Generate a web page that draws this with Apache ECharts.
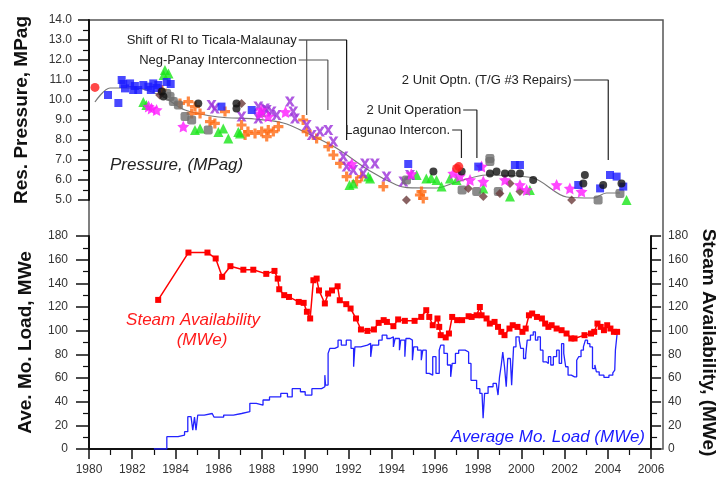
<!DOCTYPE html>
<html>
<head>
<meta charset="utf-8">
<script src="https://cdn.jsdelivr.net/npm/echarts@6/dist/echarts.min.js"></script>
<style>
  html, body { margin: 0; padding: 0; background: #fff; }
  #chart { width: 726px; height: 479px; }
</style>
</head>
<body>
<div id="chart"></div>
<script>
// ---- Reservoir pressure readings (year, MPag) by well marker group ----
const pressBlue = [[1980.86,10.25],[1981.33,9.85],[1981.48,11.0],[1981.55,10.8],[1981.63,10.58],[1981.86,10.83],[1982.0,10.5],[1982.08,10.7],[1982.23,10.5],[1982.46,10.75],[1982.69,10.67],[1982.8,10.5],[1982.91,10.83],[1983.06,10.6],[1983.14,10.75],[1983.52,10.9],[1983.7,10.8],[1986.0,9.67],[1987.37,9.5],[1994.46,6.8],[1997.63,6.67],[1999.29,6.75],[1999.52,6.75],[2002.16,5.75],[2003.15,5.58],[2003.6,6.25],[2003.9,6.17],[2004.2,5.67]];
const pressRed = [[1980.27,10.63],[1996.65,6.58],[1996.75,6.67]];
const pressGreen = [[1982.46,9.9],[1982.6,9.75],[1983.38,11.25],[1983.44,11.5],[1983.6,11.33],[1984.8,8.5],[1985.03,8.58],[1985.86,8.4],[1986.08,8.58],[1986.31,8.08],[1986.76,8.4],[1986.84,8.33],[1987.8,9.4],[1991.8,5.75],[1991.97,5.83],[1992.65,6.17],[1992.73,6.08],[1994.84,6.25],[1995.28,6.08],[1995.5,6.1],[1995.74,6.0],[1995.97,5.67],[1996.35,6.08],[1996.65,6.0],[1997.86,5.58],[1999.07,5.17],[1999.97,5.5],[2002.69,4.42],[2004.35,5.0]];
const pressMagenta = [[1982.7,9.67],[1982.83,9.58],[1983.06,9.5],[1984.27,8.67],[1987.74,9.33],[1987.8,9.5],[1988.12,9.17],[1988.9,9.4],[1991.9,6.8],[1994.6,6.3],[1996.5,6.33],[1996.8,6.2],[1997.26,6.0],[1997.78,6.67],[1997.86,5.92],[1998.84,6.0],[1999.52,5.75],[1999.82,5.5],[2001.18,5.75],[2001.78,5.58],[2002.31,5.42]];
const pressPurple = [[1985.55,9.75],[1985.7,9.58],[1986.91,9.17],[1987.67,9.67],[1987.67,9.08],[1987.97,9.58],[1988.05,9.5],[1988.27,9.42],[1988.5,9.25],[1989.1,9.92],[1989.25,9.42],[1989.33,9.08],[1989.86,8.75],[1990.09,8.25],[1990.46,8.42],[1990.84,8.5],[1991.07,7.92],[1991.52,7.17],[1991.67,6.67],[1991.97,6.5],[1992.42,6.33],[1992.5,6.83],[1992.95,6.83],[1993.48,6.17],[1994.24,5.92],[1994.54,6.25]];
const pressOrange = [[1983.3,10.5],[1984.12,9.83],[1984.5,9.92],[1984.65,9.33],[1984.8,9.67],[1985.03,9.33],[1985.48,8.92],[1985.7,8.83],[1986.16,9.42],[1986.91,8.75],[1987.07,8.25],[1987.2,8.42],[1987.52,8.33],[1987.82,8.42],[1988.05,8.17],[1988.12,8.5],[1988.35,8.42],[1988.58,8.67],[1989.7,9.0],[1989.86,8.42],[1990.31,8.08],[1990.84,7.67],[1991.07,7.25],[1991.37,6.83],[1991.67,6.17],[1992.12,5.92],[1992.35,6.17],[1993.33,5.67],[1992.95,4.92],[1992.8,4.42],[1994.99,5.25],[1995.06,5.42],[1995.14,5.08]];
const pressGray = [[1983.52,10.33],[1983.67,10.17],[1983.82,9.92],[1984.05,9.75],[1984.35,9.17],[1984.65,9.0],[1985.4,8.5],[1994.38,6.0],[1996.9,5.5],[1997.56,5.42],[1998.16,7.08],[1998.16,6.92],[1998.54,5.42],[2001.78,4.75],[2002.24,4.08],[2003.06,5.0],[2004.05,5.33]];
const pressBlack = [[1983.3,10.42],[1983.37,10.17],[1984.95,9.83],[1986.68,9.83],[1986.68,9.58],[1995.6,6.42],[1996.88,6.42],[1998.16,6.33],[1998.46,6.42],[1998.84,6.33],[1999.14,6.33],[1999.52,6.33],[2000.12,6.0],[2002.39,5.83],[2002.46,6.25],[2003.29,5.75],[2004.12,5.83]];
const pressBrown = [[1983.2,10.25],[1986.91,9.83],[1994.38,5.0],[1996.05,4.92],[1996.65,4.92],[1997.18,5.58],[1997.86,5.17],[1998.61,5.33],[1999.07,5.83],[1999.52,5.42],[1999.75,4.67],[2001.18,4.67],[2001.86,5.0],[2004.12,4.92]];
// Pressure trend line
const pressTrend = [[1980.27,9.9],[1980.95,10.6],[1982.08,10.6],[1983.3,10.2],[1984.35,9.5],[1985.86,9.15],[1987.5,9.05],[1988.8,8.85],[1989.86,8.35],[1991.2,7.6],[1992.73,6.45],[1993.93,5.75],[1994.4,5.62],[1995.74,5.6],[1996.65,5.9],[1998.0,6.25],[2000.12,6.1],[2001.63,5.15],[2002.84,5.1],[2003.44,5.35],[2004.05,5.35]];

// ---- Steam availability (MWe) ----
const steamAvail = [[1983.2,126],[1984.6,166],[1985.48,166],[1985.86,161],[1986.16,145.5],[1986.54,154.5],[1987.14,151.5],[1987.6,151.5],[1988.2,148],[1988.58,150.5],[1988.73,144],[1988.8,135],[1989.03,130],[1989.25,128.5],[1989.7,124.3],[1989.93,123.5],[1990.08,116],[1990.23,110.3],[1990.38,142.6],[1990.53,144],[1990.64,134],[1990.91,123],[1991.06,131.4],[1991.24,134],[1991.5,137.5],[1991.6,125.7],[1991.9,122.4],[1992.1,118.7],[1992.35,110.3],[1992.58,101],[1992.88,99.8],[1993.18,101],[1993.4,106.6],[1993.63,108.9],[1993.78,107.4],[1994.08,103.8],[1994.3,109.5],[1994.61,108.3],[1995.06,108.3],[1995.37,111.6],[1995.6,117.3],[1995.74,111.6],[1995.9,104.6],[1996.12,110.3],[1996.2,103.2],[1996.27,96.2],[1996.5,94.3],[1996.65,97.6],[1996.8,111.6],[1997.03,108.9],[1997.26,108.9],[1997.56,112.2],[1997.7,111.6],[1997.93,113],[1998.08,120],[1998.16,113],[1998.39,110.3],[1998.54,106],[1998.76,107.4],[1998.92,103.2],[1999.07,99],[1999.22,96.2],[1999.45,101.8],[1999.6,104.6],[1999.82,103.2],[2000.05,99],[2000.2,101.8],[2000.35,113],[2000.5,114.5],[2000.72,111.6],[2000.95,110.3],[2001.1,106],[2001.25,103.2],[2001.4,104.6],[2001.63,101.8],[2001.86,100.4],[2002.09,97.6],[2002.31,93.4],[2002.46,93.4],[2002.92,96.2],[2003.22,97.6],[2003.37,99],[2003.52,106],[2003.67,103.2],[2003.82,100.4],[2003.97,104.6],[2004.12,101.8],[2004.28,99],[2004.43,99]];

// ---- Average monthly load (MWe) ----
const avgLoad = [[1983.0,0],[1983.6,10.4],[1984.12,11.8],[1984.42,14.6],[1984.57,27.3],[1984.72,28.7],[1984.8,16],[1984.88,27],[1984.95,16],[1985.03,28.7],[1985.33,30],[1985.7,30],[1985.78,27],[1986.23,28.7],[1986.68,30],[1987.06,31.5],[1987.44,38.6],[1987.74,37],[1988.05,41.4],[1988.35,44],[1988.72,44],[1988.87,47],[1989.18,44],[1989.4,51],[1989.78,48.4],[1990.0,45.6],[1990.31,51],[1990.76,52.6],[1990.91,62.4],[1990.94,54],[1991.06,80.8],[1991.14,85],[1991.37,86.3],[1991.52,92],[1991.67,87.8],[1991.9,92],[1992.12,85],[1992.24,69.5],[1992.3,86.3],[1992.57,87.8],[1992.88,89.2],[1993.03,77.9],[1993.1,87.8],[1993.4,92],[1993.56,96.2],[1993.78,93.4],[1993.93,94.8],[1994.08,86.3],[1994.16,93.4],[1994.36,83.5],[1994.42,92],[1994.61,78],[1994.66,93.4],[1994.84,92],[1994.96,75],[1995.02,86.3],[1995.2,83.5],[1995.37,75],[1995.44,83.5],[1995.6,63.9],[1995.74,62.4],[1995.9,78],[1996.05,63.9],[1996.2,83.5],[1996.27,87.8],[1996.42,80.8],[1996.58,71],[1996.73,61],[1996.8,72.3],[1996.95,80.8],[1997.1,83.5],[1997.4,82],[1997.56,72.3],[1997.67,58],[1997.8,58],[1997.93,51],[1998.08,47],[1998.18,45.6],[1998.23,26],[1998.3,47],[1998.46,52.6],[1998.69,55.4],[1998.84,54],[1998.92,45.6],[1998.99,61],[1999.07,71],[1999.14,82],[1999.22,69.5],[1999.3,52.6],[1999.37,76.5],[1999.49,75],[1999.55,54],[1999.64,86.3],[1999.75,94.8],[1999.9,92],[1999.97,85],[2000.1,76.5],[2000.2,79.3],[2000.27,92],[2000.42,96.2],[2000.55,99],[2000.65,92],[2000.76,94.8],[2000.88,83.5],[2001.0,73.7],[2001.15,72.3],[2001.25,78],[2001.36,71],[2001.48,78],[2001.63,83.5],[2001.75,72.3],[2001.86,89],[2001.96,80.8],[2002.05,69.5],[2002.16,62.4],[2002.31,61],[2002.46,61],[2002.56,75],[2002.65,78],[2002.76,83.5],[2002.87,86.3],[2002.96,92],[2003.06,89],[2003.17,86.3],[2003.29,68],[2003.4,71],[2003.47,65.2],[2003.6,62.4],[2003.82,60.5],[2004.05,62.4],[2004.23,64.4],[2004.32,66.7],[2004.35,83.5],[2004.43,97.6]];

// ---- Event annotations: leader lines in (year, MPag) ----
const eventLines = [
  { text: 'Shift of RI to Ticala-Malaunay', pts: [[1989.5,13.0],[1991.67,13.0],[1991.67,8.0]], color: '#111' },
  { text: '', pts: [[1989.86,13.0],[1989.86,9.25]], color: '#555' },
  { text: 'Neg-Panay Interconnection', pts: [[1989.5,12.0],[1990.82,12.0],[1990.82,9.5]], color: '#555' },
  { text: '2 Unit Optn. (T/G #3 Repairs)', pts: [[2001.95,11.0],[2003.52,11.0],[2003.52,7.0]], color: '#222' },
  { text: '2 Unit Operation', pts: [[1996.95,9.5],[1997.57,9.5],[1997.57,7.1]], color: '#222' },
  { text: 'Lagunao Intercon.', pts: [[1996.45,8.5],[1996.87,8.5],[1996.87,7.1]], color: '#222' }
];

// Axis tick values
const yearMin = 1980, yearMax = 2006, yearStep = 2;
const pressMin = 5, pressMax = 14, pressStep = 1;
const mweMin = 0, mweMax = 180, mweStep = 20;

const FONT = 'Arial, "Liberation Sans", sans-serif';

const starPath = 'path://M0,-10 L2.9,-4 9.5,-3.1 4.7,1.5 5.9,8.1 0,5 -5.9,8.1 -4.7,1.5 -9.5,-3.1 -2.9,-4 Z';
const xPath = 'path://M0,0 L3.2,0 5,3 6.8,0 10,0 6.6,5 10,10 6.8,10 5,7 3.2,10 0,10 3.4,5 Z';
const plusPath = 'path://M3.4,0 H6.6 V3.4 H10 V6.6 H6.6 V10 H3.4 V6.6 H0 V3.4 H3.4 Z';

function scatter(name, data, color, symbol, size) {
  return {
    name, type: 'scatter', xAxisIndex: 0, yAxisIndex: 0, data,
    symbol, symbolSize: size, itemStyle: { color }, z: 4, silent: true
  };
}

const chart = echarts.init(document.getElementById('chart'), null, { renderer: 'canvas' });

const tickLabel = { color: '#333', fontFamily: FONT, fontSize: 12 };

const series = [
  {
    type: 'line', xAxisIndex: 0, yAxisIndex: 0, data: pressTrend,
    showSymbol: false, smooth: 0.3, lineStyle: { color: '#777', width: 1.2 }, z: 3, silent: true
  },
  scatter('Orange', pressOrange, '#ff6a13', plusPath, 10),
  scatter('Green', pressGreen, '#19e619', 'triangle', 10),
  scatter('Purple', pressPurple, '#9b30d9', xPath, 10),
  scatter('Gray', pressGray, '#6e6e6e', 'roundRect', 9),
  scatter('Brown', pressBrown, '#6b3b3b', 'diamond', 9),
  scatter('Magenta', pressMagenta, '#ff19ff', starPath, 12),
  scatter('Blue', pressBlue, '#1a1aff', 'rect', 8),
  scatter('Black', pressBlack, '#111', 'circle', 8),
  scatter('Red', pressRed, '#ff1a1a', 'circle', 9),
  {
    name: 'Steam Availability', type: 'line', xAxisIndex: 1, yAxisIndex: 2, data: steamAvail,
    symbol: 'rect', symbolSize: 6, showAllSymbol: true,
    itemStyle: { color: '#ff0000' }, lineStyle: { color: '#ff0000', width: 1.5 }, z: 4, silent: true
  },
  {
    name: 'Average Mo. Load', type: 'line', xAxisIndex: 1, yAxisIndex: 1, data: avgLoad,
    step: 'end', showSymbol: false,
    lineStyle: { color: '#2323ff', width: 1.3 }, z: 3, silent: true
  }
];

eventLines.forEach(ev => {
  series.push({
    type: 'line', xAxisIndex: 0, yAxisIndex: 0, data: ev.pts, showSymbol: false,
    lineStyle: { color: ev.color, width: 1.2 }, z: 2, silent: true
  });
});

chart.setOption({
  backgroundColor: '#ffffff',
  animation: false,
  grid: [
    { left: 89, right: 63, top: 20, height: 180 },
    { left: 89, right: 63, top: 236, bottom: 30 },
    { left: 89, right: 63, top: 20, bottom: 30, show: true, borderColor: '#555', borderWidth: 1.5, backgroundColor: 'transparent' }
  ],
  xAxis: [
    { type: 'value', gridIndex: 0, min: yearMin, max: yearMax, show: false },
    {
      type: 'value', gridIndex: 1, min: yearMin, max: yearMax, interval: yearStep,
      axisLine: { lineStyle: { color: '#111', width: 2 } },
      axisTick: { length: 10, lineStyle: { color: '#111', width: 1.5 } },
      minorTick: { show: true, splitNumber: 2, length: 6, lineStyle: { color: '#111', width: 1.2 } },
      splitLine: { show: false },
      axisLabel: Object.assign({ margin: 15, formatter: v => String(v) }, tickLabel)
    },
    { type: 'value', gridIndex: 2, min: 0, max: 1, show: false }
  ],
  yAxis: [
    {
      type: 'value', gridIndex: 0, min: pressMin, max: pressMax, interval: pressStep,
      name: 'Res. Pressure, MPag', nameLocation: 'middle', nameGap: 58, nameRotate: 90,
      nameTextStyle: { fontFamily: FONT, fontSize: 19, fontWeight: 'bold', color: '#111' },
      axisLine: { show: true, lineStyle: { color: '#111', width: 2 } },
      axisTick: { show: true, length: 11, lineStyle: { color: '#111', width: 1.5 } },
      minorTick: { show: true, splitNumber: 2, length: 6, lineStyle: { color: '#111', width: 1.2 } },
      splitLine: { show: false },
      axisLabel: Object.assign({ margin: 17, formatter: v => v.toFixed(1) }, tickLabel)
    },
    {
      type: 'value', gridIndex: 1, min: mweMin, max: mweMax, interval: mweStep,
      name: 'Ave. Mo. Load, MWe', nameLocation: 'middle', nameGap: 54, nameRotate: 90,
      nameTextStyle: { fontFamily: FONT, fontSize: 19, fontWeight: 'bold', color: '#111' },
      axisLine: { show: true, lineStyle: { color: '#111', width: 2 } },
      axisTick: { show: true, length: 13, lineStyle: { color: '#111', width: 1.5 } },
      minorTick: { show: true, splitNumber: 2, length: 6, lineStyle: { color: '#111', width: 1.2 } },
      splitLine: { show: false },
      axisLabel: Object.assign({ margin: 21 }, tickLabel)
    },
    {
      type: 'value', gridIndex: 1, position: 'right', min: mweMin, max: mweMax, interval: mweStep,
      name: 'Steam Availability, (MWe)', nameLocation: 'middle', nameGap: 42, nameRotate: -90,
      nameTextStyle: { fontFamily: FONT, fontSize: 19, fontWeight: 'bold', color: '#111' },
      axisLine: { show: true, lineStyle: { color: '#111', width: 2 } },
      axisTick: { show: true, length: 10, lineStyle: { color: '#111', width: 1.5 } },
      minorTick: { show: true, splitNumber: 2, length: 6, lineStyle: { color: '#111', width: 1.2 } },
      splitLine: { show: false },
      axisLabel: Object.assign({ margin: 17 }, tickLabel)
    },
    { type: 'value', gridIndex: 2, min: 0, max: 1, show: false }
  ],
  series
});

// Text labels placed next to the leader lines and the curves
const graphics = [];
eventLines.forEach(ev => {
  if (!ev.text) return;
  const p = chart.convertToPixel({ xAxisIndex: 0, yAxisIndex: 0 }, ev.pts[0]);
  graphics.push({
    type: 'text', x: p[0] - 2, y: p[1], z: 10, silent: true,
    style: { text: ev.text, fill: '#222', font: '13px ' + FONT, align: 'right', verticalAlign: 'middle' }
  });
});
graphics.push(
  { type: 'text', x: 110, y: 165, z: 10, silent: true,
    style: { text: 'Pressure, (MPag)', fill: '#222', font: 'italic 17px ' + FONT, align: 'left', verticalAlign: 'middle' } },
  { type: 'text', x: 193, y: 320, z: 10, silent: true,
    style: { text: 'Steam Availability', fill: '#ff1a1a', font: 'italic 17px ' + FONT, align: 'center', verticalAlign: 'middle' } },
  { type: 'text', x: 202, y: 340, z: 10, silent: true,
    style: { text: '(MWe)', fill: '#ff1a1a', font: 'italic 17px ' + FONT, align: 'center', verticalAlign: 'middle' } },
  { type: 'text', x: 548, y: 437, z: 10, silent: true,
    style: { text: 'Average Mo. Load (MWe)', fill: '#1a1aff', font: 'italic 17px ' + FONT, align: 'center', verticalAlign: 'middle' } }
);
chart.setOption({ graphic: graphics });
</script>
</body>
</html>
